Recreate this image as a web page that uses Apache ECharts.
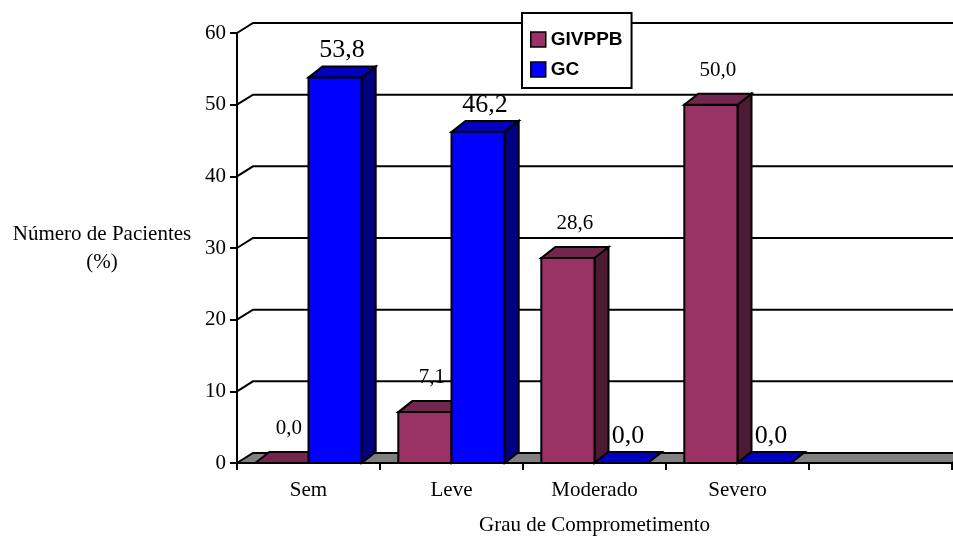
<!DOCTYPE html>
<html><head><meta charset="utf-8">
<script src="https://cdn.jsdelivr.net/npm/echarts@6/dist/echarts.min.js"></script>
<style>html,body{margin:0;padding:0;background:#fff}#c{width:953px;height:536px}</style>
</head><body><div id="c"></div>
<script>
const categories = ['Sem', 'Leve', 'Moderado', 'Severo', ''];
const givppb = [0.0, 7.1, 28.6, 50.0, null];
const gc = [53.8, 46.2, 0.0, 0.0, null];
const yTicks = [0, 10, 20, 30, 40, 50, 60];
const seriesNames = ['GIVPPB', 'GC'];

const SERIF = '"Liberation Serif","Times New Roman",serif';
const SANS = '"Liberation Sans",Arial,sans-serif';
const WALL_DX = 16, WALL_DY = 10;
const BAR_DX = 14, BAR_DY = 11;
const colors = [
  {front: '#993366', top: '#73264d', side: '#4d1a33'},
  {front: '#0000ff', top: '#0000c0', side: '#000080'}
];
const labelFont = [21, 26];
const labelGap = [13, 3];

function fmt(v) { return v.toFixed(1).replace('.', ','); }
function toData(arr) {
  const out = [];
  arr.forEach((v, i) => { if (v !== null) out.push([i, v]); });
  return out;
}

function barRender(si) {
  return function (params, api) {
    const idx = api.value(0), val = api.value(1);
    const base = api.coord([idx, 0]);
    const top = api.coord([idx, val]);
    const band = api.size([1, 0])[0];
    const bw = band * 0.372;
    const xL = base[0] + (si === 0 ? -bw : 0);
    const xR = xL + bw;
    const yT = top[1], yB = base[1];
    const c = colors[si];
    const st = (fill) => ({fill: fill, stroke: '#000', lineWidth: 2, lineJoin: 'miter'});
    return {
      type: 'group',
      children: [
        {type: 'polygon', shape: {points: [[xR, yT], [xR, yB], [xR + BAR_DX, yB - BAR_DY], [xR + BAR_DX, yT - BAR_DY]]}, style: st(c.side)},
        {type: 'rect', shape: {x: xL, y: yT, width: bw, height: yB - yT}, style: st(c.front)},
        {type: 'polygon', shape: {points: [[xL, yT], [xR, yT], [xR + BAR_DX, yT - BAR_DY], [xL + BAR_DX, yT - BAR_DY]]}, style: st(c.top)},
        {type: 'text', x: xL + bw / 2 + BAR_DX / 2, y: yT - BAR_DY - labelGap[si],
          style: {text: fmt(val), fontFamily: SERIF, fontSize: labelFont[si], fill: '#000', align: 'center', verticalAlign: 'bottom'}}
      ]
    };
  };
}

function wallRender(params, api) {
  const v = api.value(1);
  const y = api.coord([0, v])[1];
  const cs = params.coordSys;
  const x0 = cs.x, x1 = cs.x + cs.width;
  if (v === 0) {
    return {type: 'polygon', shape: {points: [[x0, y], [x1, y], [x1 + WALL_DX, y - WALL_DY], [x0 + WALL_DX, y - WALL_DY]]},
      style: {fill: '#808080', stroke: '#000', lineWidth: 2}};
  }
  return {type: 'polyline', shape: {points: [[x0, y], [x0 + WALL_DX, y - WALL_DY], [x1 + WALL_DX, y - WALL_DY]]},
    style: {fill: null, stroke: '#000', lineWidth: 2}};
}

const chart = echarts.init(document.getElementById('c'));
chart.setOption({
  animation: false,
  backgroundColor: '#fff',
  grid: {left: 237, right: 1, top: 33, bottom: 73, containLabel: false, outerBoundsMode: 'none'},
  legend: {
    data: seriesNames,
    orient: 'vertical',
    left: 522, top: 13,
    padding: [17, 9, 9, 8],
    itemGap: 11,
    itemWidth: 15, itemHeight: 15,
    icon: 'rect',
    backgroundColor: '#fff',
    borderColor: '#000', borderWidth: 2,
    itemStyle: {borderColor: '#000', borderWidth: 1.5},
    textStyle: {fontFamily: SANS, fontSize: 19, fontWeight: 'bold', color: '#000'},
    z: 10
  },
  xAxis: {
    type: 'category',
    data: categories,
    boundaryGap: true,
    axisLine: {show: true, lineStyle: {color: '#000', width: 2}},
    axisTick: {show: true, length: 7, lineStyle: {color: '#000', width: 2}},
    axisLabel: {fontFamily: SERIF, fontSize: 21, color: '#000', margin: 17},
    splitLine: {show: false},
    name: 'Grau de Comprometimento',
    nameLocation: 'middle',
    nameGap: 62,
    nameTextStyle: {fontFamily: SERIF, fontSize: 21, color: '#000', verticalAlign: 'middle'}
  },
  yAxis: {
    type: 'value',
    min: 0, max: 60, interval: 10,
    axisLine: {show: true, lineStyle: {color: '#000', width: 2}},
    axisTick: {show: true, length: 7, lineStyle: {color: '#000', width: 2}},
    axisLabel: {fontFamily: SERIF, fontSize: 21, color: '#000', margin: 11},
    splitLine: {show: false},
    name: 'Número de Pacientes\n(%)',
    nameLocation: 'middle',
    nameRotate: 0,
    nameGap: 135,
    nameTextStyle: {fontFamily: SERIF, fontSize: 21, color: '#000', align: 'center', verticalAlign: 'middle', lineHeight: 28}
  },
  series: [
    {type: 'custom', name: '_walls', renderItem: wallRender, data: yTicks.map(v => [0, v]), z: 1, silent: true},
    {type: 'custom', name: seriesNames[0], renderItem: barRender(0), data: toData(givppb), itemStyle: {color: colors[0].front}, z: 2},
    {type: 'custom', name: seriesNames[1], renderItem: barRender(1), data: toData(gc), itemStyle: {color: colors[1].front}, z: 2}
  ]
});
</script>
</body></html>
